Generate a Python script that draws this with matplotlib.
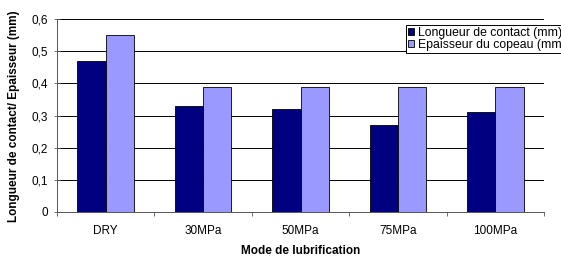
import matplotlib
matplotlib.use('Agg')
import matplotlib.pyplot as plt
import numpy as np

# values
categories = ['DRY', '30MPa', '50MPa', '75MPa', '100MPa']
longueur_contact = [0.47, 0.33, 0.32, 0.27, 0.31]
epaisseur_copeau = [0.55, 0.39, 0.39, 0.39, 0.39]
yticks = [0, 0.1, 0.2, 0.3, 0.4, 0.5, 0.6]
ytick_labels = ['0', '0,1', '0,2', '0,3', '0,4', '0,5', '0,6']

plt.rcParams['font.family'] = ['Liberation Sans', 'DejaVu Sans']

fig = plt.figure(figsize=(5.61, 2.58), dpi=100)
ax = fig.add_axes([57 / 561, 1 - 212 / 258, 487 / 561, 193 / 258])

x = np.arange(len(categories))
w = 0.29
ax.bar(x - w / 2, longueur_contact, w, color='#000080', edgecolor='black',
       linewidth=0.6, label='Longueur de contact (mm)', zorder=3)
ax.bar(x + w / 2, epaisseur_copeau, w, color='#9999ff', edgecolor='black',
       linewidth=0.6, label='Epaisseur du copeau (mm)', zorder=3)

ax.set_xlim(-0.5, len(categories) - 0.5)
ax.set_ylim(0, 0.6)
ax.set_yticks(yticks)
ax.set_yticklabels(ytick_labels, fontsize=8.5)
ax.set_xticks(x)
ax.set_xticklabels(categories, fontsize=8.5)
ax.set_xticks(np.arange(len(categories) + 1) - 0.5, minor=True)
ax.tick_params(axis='x', which='major', length=0, pad=9)
ax.tick_params(axis='x', which='minor', length=3, direction='out', width=0.6, color='#555555')
ax.tick_params(axis='y', length=5, direction='inout', width=0.6, color='#555555', pad=4)

for y in yticks[1:]:
    ax.axhline(y, color='black', linewidth=0.7, zorder=1)

for s in ['top', 'right']:
    ax.spines[s].set_visible(False)
for s in ['left', 'bottom']:
    ax.spines[s].set_color('#555555')
    ax.spines[s].set_linewidth(0.7)

fig.text(14 / 561, 1 - 116 / 258, 'Longueur de contact/ Epaisseur (mm)', rotation=90,
         ha='center', va='center', fontsize=8.5, fontweight='bold')
fig.text(301 / 561, 1 - 251 / 258, 'Mode de lubrification', ha='center', va='center',
         fontsize=8.5, fontweight='bold')

leg = fig.legend(loc='upper left', bbox_to_anchor=(406 / 561, 1 - 25 / 258), fontsize=8.8,
                 frameon=True, fancybox=False, edgecolor='black', framealpha=1,
                 handlelength=0.5, handleheight=0.5, handletextpad=0.3,
                 borderpad=0.15, labelspacing=0.0, borderaxespad=0)
leg.get_frame().set_linewidth(0.7)

fig.savefig('out.png', dpi=100)
